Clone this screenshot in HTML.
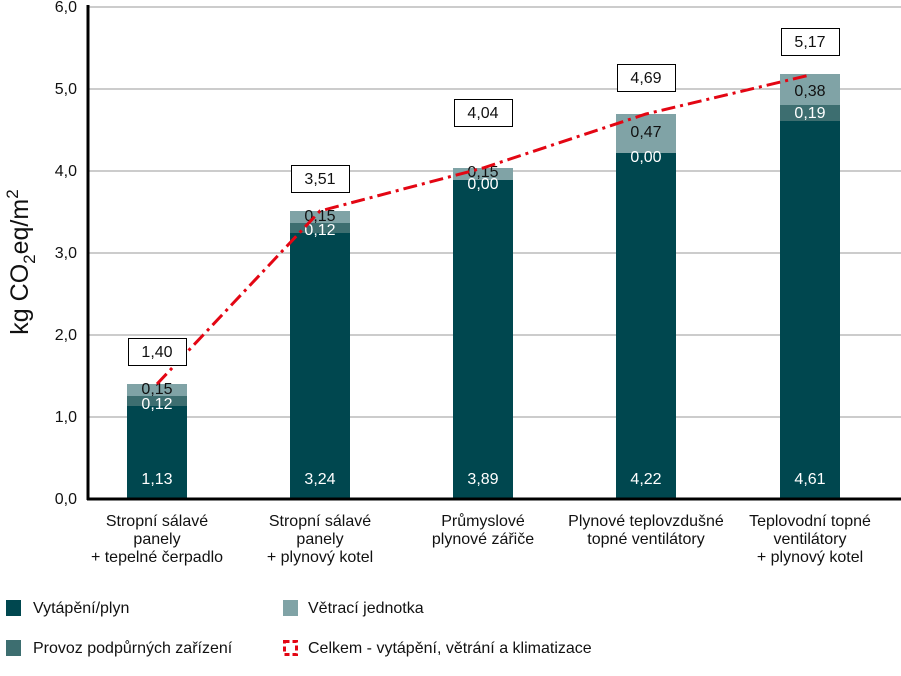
<!DOCTYPE html>
<html><head><meta charset="utf-8"><style>body{margin:0;background:#fff}svg{display:block}text{font-family:"Liberation Sans",sans-serif}</style></head><body>
<svg width="901" height="676" viewBox="0 0 901 676" xmlns="http://www.w3.org/2000/svg">
<g stroke="#999" stroke-width="1">
<line x1="88" x2="901" y1="7" y2="7"/><line x1="88" x2="901" y1="89" y2="89"/><line x1="88" x2="901" y1="171" y2="171"/><line x1="88" x2="901" y1="253" y2="253"/><line x1="88" x2="901" y1="335" y2="335"/><line x1="88" x2="901" y1="417" y2="417"/>
</g>
<g font-size="16" text-anchor="end" fill="#111">
<text x="77" y="12">6,0</text><text x="77" y="94">5,0</text><text x="77" y="176">4,0</text><text x="77" y="258">3,0</text><text x="77" y="340">2,0</text><text x="77" y="422">1,0</text><text x="77" y="504">0,0</text>
</g>
<text transform="translate(28,262) rotate(-90)" text-anchor="middle" font-size="25" fill="#111">kg CO<tspan font-size="17" dy="7">2</tspan><tspan dy="-7">eq/m</tspan><tspan font-size="17" dy="-10">2</tspan></text>
<g>
<rect x="127" y="406" width="60" height="93" fill="#00474f"/><rect x="127" y="396" width="60" height="10" fill="#3d6e70"/><rect x="127" y="384" width="60" height="12" fill="#80a3a6"/>
<rect x="290" y="233" width="60" height="266" fill="#00474f"/><rect x="290" y="223" width="60" height="10" fill="#3d6e70"/><rect x="290" y="211" width="60" height="12" fill="#80a3a6"/>
<rect x="453" y="180" width="60" height="319" fill="#00474f"/><rect x="453" y="168" width="60" height="12" fill="#80a3a6"/>
<rect x="616" y="153" width="60" height="346" fill="#00474f"/><rect x="616" y="114" width="60" height="39" fill="#80a3a6"/>
<rect x="780" y="121" width="60" height="378" fill="#00474f"/><rect x="780" y="105" width="60" height="16" fill="#3d6e70"/><rect x="780" y="74" width="60" height="31" fill="#80a3a6"/>
</g>
<g stroke="#000" stroke-width="3"><line x1="88" y1="5" x2="88" y2="500"/><line x1="87" y1="499" x2="901" y2="499"/></g>
<g font-size="16" text-anchor="middle">
<text x="157" y="484" fill="#fff">1,13</text><text x="157" y="409" fill="#fff">0,12</text><text x="157" y="394" fill="#111">0,15</text>
<text x="320" y="484" fill="#fff">3,24</text><text x="320" y="235" fill="#fff">0,12</text><text x="320" y="221" fill="#111">0,15</text>
<text x="483" y="484" fill="#fff">3,89</text><text x="483" y="189" fill="#fff">0,00</text><text x="483" y="177" fill="#111">0,15</text>
<text x="646" y="484" fill="#fff">4,22</text><text x="646" y="162" fill="#fff">0,00</text><text x="646" y="137" fill="#111">0,47</text>
<text x="810" y="484" fill="#fff">4,61</text><text x="810" y="118" fill="#fff">0,19</text><text x="810" y="96" fill="#111">0,38</text>
</g>
<polyline points="157,384 320,211 483,168 646,114 810,75" fill="none" stroke="#e30613" stroke-width="3" stroke-dasharray="14,5,3,5"/>
<g fill="#fff" stroke="#000" stroke-width="1">
<rect x="128.5" y="338.5" width="58" height="27"/><rect x="291.5" y="165.5" width="58" height="27"/><rect x="454.5" y="99.5" width="58" height="27"/><rect x="617.5" y="64.5" width="58" height="27"/><rect x="781.5" y="28.5" width="58" height="27"/>
</g>
<g font-size="16" text-anchor="middle" fill="#111">
<text x="157" y="357">1,40</text><text x="320" y="184">3,51</text><text x="483" y="118">4,04</text><text x="646" y="83">4,69</text><text x="810" y="47">5,17</text>
</g>
<g font-size="16" text-anchor="middle" fill="#111">
<text x="157" y="526">Stropní sálavé</text><text x="157" y="544">panely</text><text x="157" y="562">+ tepelné čerpadlo</text>
<text x="320" y="526">Stropní sálavé</text><text x="320" y="544">panely</text><text x="320" y="562">+ plynový kotel</text>
<text x="483" y="526">Průmyslové</text><text x="483" y="544">plynové zářiče</text>
<text x="646" y="526">Plynové teplovzdušné</text><text x="646" y="544">topné ventilátory</text>
<text x="810" y="526">Teplovodní topné</text><text x="810" y="544">ventilátory</text><text x="810" y="562">+ plynový kotel</text>
</g>
<rect x="6" y="600" width="15" height="16" fill="#00474f"/>
<rect x="6" y="640" width="15" height="16" fill="#3d6e70"/>
<rect x="283" y="600" width="15" height="16" fill="#80a3a6"/>
<rect x="284.5" y="641.5" width="12" height="13" fill="none" stroke="#e30613" stroke-width="3" stroke-dasharray="5,3"/>
<g font-size="16" fill="#111">
<text x="33" y="613">Vytápění/plyn</text><text x="33" y="653">Provoz podpůrných zařízení</text>
<text x="308" y="613">Větrací jednotka</text><text x="308" y="653">Celkem - vytápění, větrání a klimatizace</text>
</g>
</svg>
</body></html>
